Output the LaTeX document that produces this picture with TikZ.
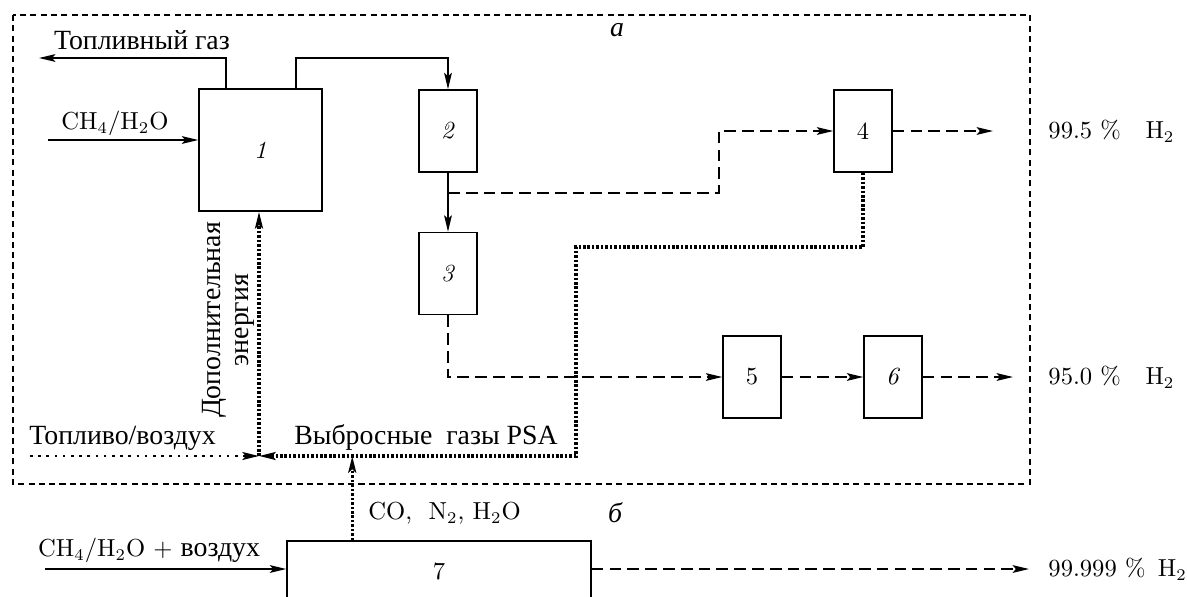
\documentclass[tikz,border=0pt]{standalone}
\usepackage{fontspec}
\newfontfamily\ru[Scale=1.13]{Liberation Serif}
\usetikzlibrary{arrows.meta,calc}
\tikzset{
  box/.style={draw, line width=0.65pt, inner sep=0pt, font=\fontsize{10.5}{12}\selectfont},
  small/.style={minimum width=0.87cm, minimum height=1.23cm},
  arr/.style={line width=0.65pt, -{Stealth[length=7pt,width=3.3pt,inset=1.4pt]}},
  dsh/.style={dash pattern=on 5pt off 2.6pt},
  dot/.style={line width=1.4pt, dash pattern=on 1.1pt off 0.8pt},
  sdot/.style={line width=1.2pt, dash pattern=on 1.1pt off 2.4pt},
  border/.style={line width=0.55pt, dash pattern=on 2.6pt off 1.8pt},
  lbl/.style={inner sep=0pt, font=\fontsize{10.5}{12}\selectfont},
  rutext/.style={inner sep=0pt, font=\fontsize{10.5}{12}\selectfont\ru},
}
\begin{document}
\begin{tikzpicture}[x=0.015cm, y=-0.015cm]
\useasboundingbox (0,0) rectangle (1187,596);
\clip (0,0) rectangle (1187,596);

% outer dashed frame
\draw[border] (13,15) rectangle (1030,484);

% boxes
\node[box, minimum width=1.845cm, minimum height=1.83cm] (b1) at (260.5,150) {\textit{1}};
\node[box, small] (b2) at (448,131) {\textit{2}};
\node[box, small] (b3) at (448,273.5) {\textit{3}};
\node[box, small] (b4) at (863,131) {4};
\node[box, small] (b5) at (752,377) {5};
\node[box, small] (b6) at (893,377) {\textit{6}};
\node[box, minimum width=4.56cm, minimum height=0.9cm] (b7) at (439,571) {7};

% coordinates
\coordinate (fg) at (39,58);
\coordinate (topc) at (448,58);
\coordinate (ch4s) at (48,140);
\coordinate (d1) at (448,193);
\coordinate (d2) at (719,193);
\coordinate (out4) at (993,131);
\coordinate (out6) at (1013,377);
\coordinate (pk) at (576,247);
\coordinate (j) at (259,456);
\coordinate (fa) at (30,456);
\coordinate (ch4b) at (45,569);
\coordinate (out7) at (1029,569);

% solid connectors
\draw[arr] ($(b1.north west)+(28,0)$) |- (fg);
\draw[arr] ($(b1.north east)+(-27,0)$) |- (topc) -- (b2.north);
\draw[arr] (ch4s) -- (ch4s -| b1.west);
\draw[arr] (b2.south) -- (b3.north);
\draw[arr] (ch4b) -- (ch4b -| b7.west);

% dashed connectors
\draw[arr, dsh] (d1) -- (d2) |- (b4.west);
\draw[arr, dsh] (b4.east) -- (out4);
\draw[arr, dsh] (b3.south) |- (b5.west);
\draw[arr, dsh] (b5.east) -- (b6.west);
\draw[arr, dsh] (b6.east) -- (out6);
\draw[arr, dsh] (b7.east |- out7) -- (out7);

% dotted connectors
\draw[arr, dot] (b4.south) |- (pk) |- (j);
\draw[arr, dot] (j) -- (j |- b1.south);
\draw[arr, sdot] (fa) -- (j);
\draw[arr, dot] ($(b7.north west)+(66,0)$) coordinate (b7t) -- (b7t |- j);

% labels
\node[rutext] (lfg) at (142,40) {Топливный газ};
\node[lbl] (lch4) at (115,123) {CH$_4$/H$_2$O};
\node[rutext, font=\fontsize{10.5}{12}\selectfont\ru\itshape] (la) at (617,30) {а};
\node[lbl, anchor=west] (o4) at (1048,131) {99.5~\%\quad H$_2$};
\node[lbl, anchor=west] (o6) at (1048,377) {95.0~\%\quad H$_2$};
\node[rutext, rotate=90, align=center] (dop) at (228,320) {Дополнительная\\энергия};
\node[rutext, anchor=west] (ltv) at (29,438) {Топливо/воздух};
\node[rutext] (lpsa) at (426,437) {Выбросные\ \ газы PSA};
\node[lbl, anchor=west] (lco) at (368,513) {CO,\ \ N$_2$, H$_2$O};
\node[rutext, font=\fontsize{10.5}{12}\selectfont\ru\itshape] (lb) at (615,513) {б};
\node[lbl] (lch4b) at (149,550) {CH$_4$/H$_2$O + {\ru воздух}};
\node[lbl, anchor=west] (o7) at (1048,569) {99.999~\%\enspace H$_2$};
\end{tikzpicture}
\end{document}
